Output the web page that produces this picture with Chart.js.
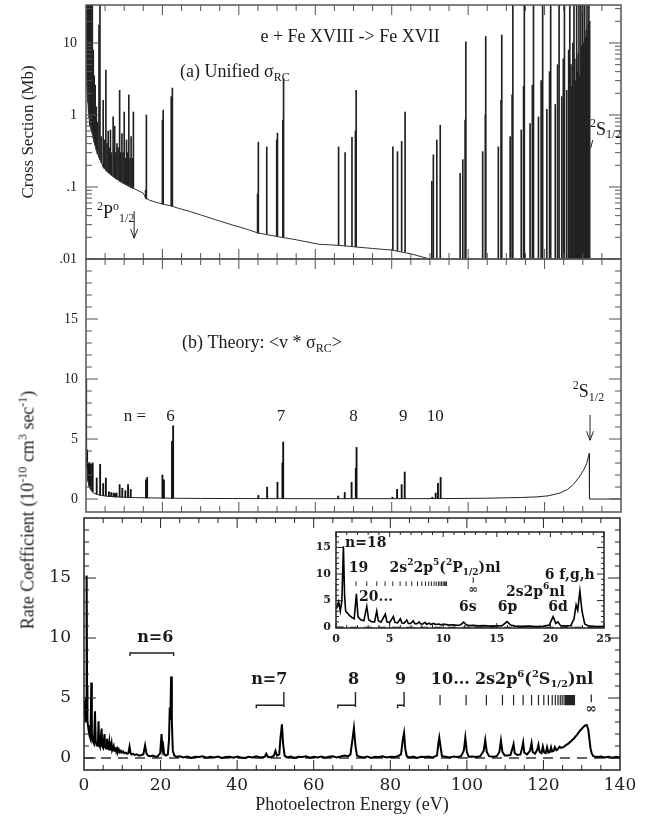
<!DOCTYPE html>
<html>
<head>
<meta charset="utf-8">
<script src="https://cdn.jsdelivr.net/npm/chart.js@4.4.1/dist/chart.umd.min.js"></script>
<style>
  body { margin: 0; background: #fff; }
  #wrap { position: relative; width: 649px; height: 822px; background: #fff; overflow: hidden; }
  #wrap canvas { position: absolute; }
  #rateTitle {
    position: absolute; left: 28px; top: 510px; white-space: nowrap;
    transform: translate(-50%, -50%) rotate(-90deg);
    font: 18px 'Liberation Serif', serif; color: #222;
  }
  #rateTitle sup { font-size: 12px; vertical-align: 7px; line-height: 0; }
</style>
</head>
<body>
<div id="wrap">
  <canvas id="panelA" width="649" height="272" style="left:0;top:0;width:649px;height:272px"></canvas>
  <canvas id="panelB" width="649" height="260" style="left:0;top:256px;width:649px;height:260px"></canvas>
  <canvas id="panelC" width="649" height="310" style="left:0;top:512px;width:649px;height:310px"></canvas>
  <canvas id="inset" width="340" height="130" style="left:280px;top:520px;width:340px;height:130px"></canvas>
  <div id="rateTitle">Rate Coefficient (10<sup>-10</sup> cm<sup>3</sup> sec<sup>-1</sup>)</div>
</div>
<script>
// ---- panel (a): unified cross section (Mb), log scale
const aCurveE = [0.03, 0.1, 0.3, 0.5, 0.7, 1.0, 1.5, 2.0, 2.8, 3.5,
  4.5, 5.5, 7.1, 8.5, 9.8, 12.4, 15.0, 15.5, 16.5, 18,
  20, 22, 24, 27, 30, 34, 38, 42, 45, 50,
  55, 61, 66, 70, 75, 80, 85, 90, 95];
const aCurveY = [12, 4, 2.5, 1.6, 1.1, 0.72, 0.6, 0.45, 0.31, 0.25,
  0.19, 0.165, 0.14, 0.125, 0.112, 0.096, 0.082, 0.072, 0.066, 0.062,
  0.058, 0.055, 0.051, 0.046, 0.041, 0.035, 0.030, 0.026, 0.023, 0.0205,
  0.0185, 0.016, 0.0155, 0.0148, 0.014, 0.0133, 0.0118, 0.0100, 0.0085];

// resonance lines: position, peak and foot of each line
const aLineE = [0.1, 0.25, 0.4, 0.55, 0.7, 0.85, 1.0, 1.2, 1.4, 1.65,
  1.9, 2.15, 2.4, 2.7, 3.0, 3.4, 3.65, 4.0, 4.5, 4.8,
  5.2, 5.5, 5.8, 6.1, 6.4, 6.7, 7.1, 7.5, 7.8, 8.1,
  8.4, 8.8, 9.1, 9.4, 9.7, 10.0, 10.3, 10.6, 10.9, 11.2,
  11.5, 11.8, 12.1, 12.4, 15.6, 15.8, 20.0, 20.2, 22.3, 22.6,
  44.9, 45.1, 47.3, 49.9, 50.1, 51.5, 51.7, 66.1, 67.8, 69.6,
  70.5, 70.7, 80.3, 81.5, 82.6, 83.5, 90.5, 90.9, 91.8, 92.7,
  97.9, 98.6, 99.2, 99.4, 103.8, 104.5, 104.6, 107.9, 108.6, 108.8,
  111.0, 111.5, 111.7, 113.9, 114.5, 114.7, 116.2, 116.8, 117.1, 118.4,
  119.1, 119.5, 120.6, 121.3, 121.6, 122.8, 123.4, 123.8, 124.5, 124.9,
  125.2, 125.8, 126.3, 126.6, 126.9, 127.1, 127.4, 127.7, 127.9, 128.1,
  128.4, 128.6, 128.8, 129.0, 129.2, 129.5, 129.65, 129.8, 130.0, 130.15,
  130.3, 130.5, 130.65, 130.8, 130.95, 131.1, 131.3, 131.45, 131.6, 131.8];
const aLineTop = [40, 40, 40, 40, 40, 40, 40, 40, 40, 40,
  8, 3.5, 2.6, 1.3, 0.8, 17.8, 40, 0.5, 1.6, 0.45,
  4.2, 0.4, 0.6, 0.35, 0.62, 0.3, 0.94, 0.7, 0.3, 0.4,
  0.35, 2.2, 0.3, 0.55, 0.3, 1.1, 0.25, 0.45, 0.3, 1.9,
  0.25, 0.5, 0.25, 1.1, 0.09, 1.0, 0.85, 1.17, 1.8, 2.37,
  0.08, 0.42, 0.36, 0.45, 0.56, 0.85, 3.2, 0.36, 0.30, 0.49,
  0.6, 2.2, 0.36, 0.31, 0.43, 1.1, 0.12, 0.28, 0.45, 0.72,
  0.155, 0.24, 0.85, 10.4, 0.31, 1.0, 12.3, 0.36, 1.6, 12.9,
  0.5, 1.9, 40, 0.62, 2.5, 40, 0.76, 2.6, 40, 0.94,
  3.0, 40, 1.2, 4.0, 40, 1.4, 5, 40, 1.8, 6,
  40, 2.2, 8, 40, 5, 2.5, 10, 40, 6, 3,
  40, 4, 7, 40, 3.5, 40, 9, 5, 40, 10,
  6, 40, 12, 8, 15, 40, 12, 18, 40, 20];
const aLineBase = [4, 2.8, 2.0, 1.5, 1.1, 0.9, 0.72, 0.68, 0.62, 0.56,
  0.48, 0.42, 0.38, 0.33, 0.29, 0.26, 0.24, 0.22, 0.19, 0.18,
  0.17, 0.165, 0.16, 0.155, 0.15, 0.145, 0.14, 0.135, 0.13, 0.128,
  0.125, 0.12, 0.118, 0.116, 0.114, 0.112, 0.11, 0.107, 0.105, 0.103,
  0.1, 0.099, 0.097, 0.096, 0.07, 0.068, 0.058, 0.058, 0.055, 0.054,
  0.023, 0.023, 0.022, 0.0205, 0.0205, 0.02, 0.02, 0.0155, 0.0152, 0.015,
  0.0148, 0.0148, 0.0133, 0.013, 0.0128, 0.0125, 0.009, 0.009, 0.009, 0.009,
  0.005, 0.005, 0.005, 0.005, 0.005, 0.005, 0.005, 0.005, 0.005, 0.005,
  0.005, 0.005, 0.005, 0.005, 0.005, 0.005, 0.005, 0.005, 0.005, 0.005,
  0.005, 0.005, 0.005, 0.005, 0.005, 0.005, 0.005, 0.005, 0.005, 0.005,
  0.005, 0.005, 0.005, 0.005, 0.005, 0.005, 0.005, 0.005, 0.005, 0.005,
  0.005, 0.005, 0.005, 0.005, 0.005, 0.005, 0.005, 0.005, 0.005, 0.005,
  0.005, 0.005, 0.005, 0.005, 0.005, 0.005, 0.005, 0.005, 0.005, 0.005];

// ---- panel (b): theoretical rate coefficient
const bCurveE = [0.02, 0.1, 0.2, 0.4, 0.7, 1.0, 1.5, 2.0, 3.0, 4.0,
  6, 8, 10, 13, 16, 20, 25, 30, 40, 60,
  80, 95, 105, 110, 114, 118, 121, 124, 126, 127.5,
  129, 130.2, 131, 131.7, 131.75, 140];
const bCurveY = [10, 5, 3.2, 1.8, 1.2, 0.9, 0.65, 0.5, 0.38, 0.3,
  0.22, 0.18, 0.15, 0.12, 0.1, 0.08, 0.06, 0.05, 0.04, 0.03,
  0.03, 0.04, 0.07, 0.1, 0.13, 0.18, 0.27, 0.5, 0.8, 1.2,
  1.8, 2.4, 2.95, 3.8, 0, 0];
const bLineE = [0.3, 0.55, 0.9, 1.3, 1.75, 2.8, 3.7, 4.5, 5.2, 6.0,
  6.6, 7.2, 7.6, 8.0, 8.8, 9.5, 10.3, 11.0, 11.7, 15.7,
  16.0, 20.0, 20.4, 22.5, 22.8, 45.1, 47.4, 50.1, 51.4, 51.6,
  66.0, 67.7, 69.5, 70.6, 70.8, 80.2, 81.4, 82.6, 83.4, 90.6,
  91.5, 92.1, 92.8];
const bLineTop = [4.1, 3.0, 3.0, 2.9, 3.0, 1.75, 2.9, 1.3, 1.75, 0.6,
  0.55, 0.5, 0.45, 0.5, 1.2, 0.9, 0.7, 1.2, 0.8, 1.6,
  1.8, 2.0, 1.6, 4.8, 6.1, 0.3, 1.0, 1.4, 3.0, 4.75,
  0.25, 0.55, 1.4, 2.55, 4.3, 0.15, 0.8, 1.2, 2.25, 0.15,
  0.5, 1.3, 1.8];
const bLineBase = [2.6, 1.5, 1.0, 0.8, 0.6, 0.4, 0.32, 0.28, 0.25, 0.22,
  0.2, 0.19, 0.185, 0.18, 0.17, 0.16, 0.15, 0.14, 0.13, 0.1,
  0.1, 0.08, 0.08, 0.07, 0.07, 0.04, 0.04, 0.035, 0.035, 0.035,
  0.03, 0.03, 0.03, 0.03, 0.03, 0.03, 0.03, 0.03, 0.03, 0.04,
  0.04, 0.04, 0.04];
const bLevelText = ['6', '7', '8', '9', '10'];
const bLevelE = [22.1, 51.0, 70.0, 83.0, 91.4];

// ---- panel (c): measured rate coefficient (also shown in the inset)
const cEnergy = [0.05, 0.25, 0.4, 0.55, 0.69, 0.8, 0.9, 1.05, 1.25, 1.5,
  1.7, 1.9, 2.05, 2.3, 2.6, 2.87, 3.05, 3.3, 3.6, 3.8,
  3.95, 4.2, 4.6, 4.75, 5.0, 5.35, 5.5, 5.75, 6.0, 6.15,
  6.35, 6.6, 6.75, 6.95, 7.2, 7.35, 7.55, 7.75, 7.9, 8.1,
  8.3, 8.45, 8.7, 8.85, 9.1, 9.3, 9.6, 9.8, 10.2, 10.5,
  10.9, 11.3, 11.6, 11.9, 12.15, 12.4, 12.8, 13.3, 13.8, 14.4,
  15.0, 15.5, 15.95, 16.3, 16.7, 17.3, 18.0, 18.7, 19.3, 19.9,
  20.25, 20.5, 20.7, 20.95, 21.4, 21.9, 22.2, 22.4, 22.55, 22.75,
  22.95, 23.2, 23.6, 24.2, 25, 26, 27, 28, 29, 30,
  31, 32, 33, 34, 35, 36, 37, 38, 39, 40,
  41, 42, 43, 44, 45, 46, 47.2, 47.6, 48.0, 48.8,
  49.6, 50.0, 50.4, 51.0, 51.3, 51.7, 52.0, 52.4, 53, 54,
  55, 56, 57, 58, 59, 60, 61, 62, 63, 64,
  65, 66, 67, 68, 69, 69.6, 70.1, 70.5, 70.9, 71.3,
  72, 73, 74, 75, 76, 77, 78, 79, 80, 81,
  82, 82.8, 83.3, 83.6, 83.9, 84.3, 85, 86, 87, 88,
  89, 90, 91, 92.2, 92.6, 92.8, 93.1, 93.5, 94.5, 95.5,
  96.5, 97.5, 98.5, 99.2, 99.6, 100.0, 100.5, 101.5, 102.5, 103.5,
  104.4, 104.8, 105.2, 105.8, 106.8, 107.8, 108.5, 108.9, 109.3, 109.9,
  110.7, 111.4, 111.9, 112.2, 112.5, 113.2, 114.0, 114.4, 114.7, 115.0,
  115.7, 116.5, 116.9, 117.2, 117.8, 118.4, 118.7, 119.0, 119.5, 119.85,
  120.2, 120.6, 120.95, 121.3, 121.7, 122.0, 122.3, 122.7, 123.0, 123.4,
  123.8, 124.2, 124.6, 125.2, 125.8, 126.5, 127.2, 128.0, 128.8, 129.5,
  130.2, 130.8, 131.3, 131.7, 132.0, 132.3, 132.6, 133.0, 134, 135,
  136, 137, 138, 139, 140];
const cRate = [3.5, 4.8, 3.0, 5.0, 15.2, 6.0, 3.0, 2.7, 2.2, 1.8,
  1.6, 6.3, 2.0, 1.4, 1.2, 3.9, 1.4, 1.05, 1.0, 3.05,
  1.2, 0.95, 2.45, 1.0, 0.85, 2.0, 0.9, 0.8, 1.6, 0.8,
  0.75, 1.35, 0.7, 0.7, 1.2, 0.65, 0.65, 1.0, 0.6, 0.6,
  0.9, 0.55, 0.75, 0.5, 0.7, 0.5, 0.6, 0.45, 0.55, 0.4,
  0.45, 0.35, 0.4, 0.95, 0.45, 0.3, 0.35, 0.25, 0.3, 0.2,
  0.25, 0.3, 1.05, 0.4, 0.2, 0.15, 0.2, 0.1, 0.15, 0.4,
  2.0, 0.7, 1.0, 0.3, 0.2, 0.3, 1.5, 4.2, 3.2, 6.8,
  3.0, 0.6, 0.2, 0.1, 0.15, 0.05, 0.12, 0.0, 0.1, 0.08,
  0.15, 0.02, 0.1, 0.05, 0.12, 0.0, 0.08, 0.1, 0.02, 0.12,
  0.05, 0.0, 0.1, 0.05, 0.15, 0.05, 0.1, 0.35, 0.1, 0.05,
  0.2, 0.6, 0.2, 0.3, 1.6, 2.8, 1.2, 0.2, 0.05, 0.12,
  0.0, 0.1, 0.08, 0.15, 0.02, 0.1, 0.05, 0.12, 0.02, 0.1,
  0.15, 0.05, 0.12, 0.2, 0.15, 0.3, 1.5, 2.5, 1.0, 0.2,
  0.1, 0.05, 0.12, 0.0, 0.1, 0.08, 0.15, 0.05, 0.1, 0.08,
  0.15, 0.3, 1.6, 2.1, 0.8, 0.15, 0.05, 0.12, 0.0, 0.1,
  0.08, 0.12, 0.05, 0.2, 1.3, 1.7, 1.0, 0.15, 0.1, 0.05,
  0.12, 0.08, 0.15, 0.6, 1.7, 0.5, 0.1, 0.12, 0.08, 0.15,
  0.6, 1.5, 0.5, 0.15, 0.1, 0.15, 0.5, 1.45, 0.5, 0.2,
  0.2, 0.25, 0.8, 1.15, 0.4, 0.25, 0.3, 0.8, 1.3, 0.45,
  0.3, 0.6, 1.25, 0.5, 0.35, 0.7, 1.1, 0.5, 0.4, 0.95,
  0.45, 0.4, 0.9, 0.45, 0.5, 0.9, 0.55, 0.6, 0.9, 0.65,
  0.75, 0.95, 0.85, 0.9, 1.05, 1.2, 1.4, 1.65, 1.95, 2.25,
  2.5, 2.7, 2.75, 2.4, 1.6, 0.8, 0.4, 0.15, 0.08, 0.12,
  0.05, 0.1, 0.02, 0.1, 0.05];
const zeroLine = [0, 140];

// Rydberg series markers
const seriesS = [93.0, 99.8, 105.1, 109.3, 112.2, 114.7, 116.9, 118.7, 120.1, 121.3,
  122.3, 123.1, 123.8, 124.4, 124.9, 125.4, 125.8, 126.1, 126.4, 126.7,
  126.95, 127.2, 127.4, 127.6, 127.8, 128.0, 128.1];
const seriesP = [1.87, 2.87, 3.8, 4.58, 5.3, 5.98, 6.54, 7.07, 7.6, 8.0,
  8.35, 8.65, 8.9, 9.15, 9.35, 9.55, 9.7, 9.85, 10.0, 10.1, 10.2, 10.3];

// ---- ticks
const xLabels = [0, 20, 40, 60, 80, 100, 120, 140];
const xMajor = [20, 40, 60, 80, 100, 120];
const xMinor = [5, 10, 15, 25, 30, 35, 45, 50, 55, 65, 70, 75, 85, 90, 95, 105, 110, 115, 125, 130, 135];
const aMajor = [0.01, 0.1, 1, 10];
const aMajorText = ['.01', '.1', '1', '10'];
const aMinor = [0.02, 0.03, 0.04, 0.05, 0.06, 0.07, 0.08, 0.09, 0.2, 0.3, 0.4, 0.5, 0.6, 0.7, 0.8, 0.9,
  2, 3, 4, 5, 6, 7, 8, 9, 20, 30];
const linMajor = [0, 5, 10, 15];
const linMinor = [1, 2, 3, 4, 6, 7, 8, 9, 11, 12, 13, 14, 16, 17, 18, 19];
const iXMajor = [0, 5, 10, 15, 20, 25];
const iXMinor = [1, 2, 3, 4, 6, 7, 8, 9, 11, 12, 13, 14, 16, 17, 18, 19, 21, 22, 23, 24];
const iYMinor = [1, 2, 3, 4, 6, 7, 8, 9, 11, 12, 13, 14, 16, 17];

const serif = "'Liberation Serif', 'Times New Roman', serif";
const wide = "'DejaVu Serif', serif";

Chart.defaults.color = '#222';

function pts(xs, ys) {
  return xs.map((e, i) => ({ x: e, y: ys[i] }));
}
function bars(xs, lo, hi) {
  return xs.map((e, i) => ({ x: e, y: [lo[i], hi[i]] }));
}
// axis sizes are fixed so the plot boxes line up across the canvases
function fixWidth(w) {
  return s => { s.width = w; s.paddingTop = 0; s.paddingBottom = 0; s.paddingLeft = 0; s.paddingRight = 0; };
}
function fixHeight(h) {
  return s => { s.height = h; s.paddingTop = 0; s.paddingBottom = 0; s.paddingLeft = 0; s.paddingRight = 0; };
}

// text with superscript (1) and subscript (2) pieces
function rich(ctx, parts, x, y, o) {
  const size = o.size, small = Math.round(size * 0.65);
  const font = k => `${o.weight || 'normal'} ${k ? small : size}px ${o.family}`;
  let total = 0;
  const widths = parts.map(([t, k]) => {
    ctx.font = font(k);
    const w = ctx.measureText(t).width;
    total += w;
    return w;
  });
  let cx = o.align === 'center' ? x - total / 2 : x;
  ctx.textAlign = 'left';
  ctx.textBaseline = 'middle';
  ctx.fillStyle = '#1a1a1a';
  parts.forEach(([t, k], i) => {
    ctx.font = font(k);
    const dy = k === 1 ? -0.36 * size : k === 2 ? 0.3 * size : 0;
    ctx.fillText(t, cx, y + dy);
    cx += widths[i];
  });
}

function arrowDown(ctx, x, y1, y2) {
  ctx.beginPath();
  ctx.moveTo(x, y1); ctx.lineTo(x, y2);
  ctx.moveTo(x - 3.5, y2 - 9); ctx.lineTo(x, y2); ctx.lineTo(x + 3.5, y2 - 9);
  ctx.stroke();
}

// box round the plot area with inward ticks on all four sides
function frame(xMaj, xMin, yMaj, yMin, color, majLen, minLen) {
  return {
    id: 'frame',
    afterDatasetsDraw(chart) {
      const { ctx, chartArea: a } = chart;
      const xs = chart.scales.x, ys = chart.scales.y;
      ctx.save();
      ctx.strokeStyle = color;
      ctx.lineWidth = 1;
      ctx.beginPath();
      const tx = (v, len) => {
        const p = xs.getPixelForValue(v);
        ctx.moveTo(p, a.bottom); ctx.lineTo(p, a.bottom - len);
        ctx.moveTo(p, a.top); ctx.lineTo(p, a.top + len);
      };
      const ty = (v, len) => {
        const p = ys.getPixelForValue(v);
        ctx.moveTo(a.left, p); ctx.lineTo(a.left + len, p);
        ctx.moveTo(a.right, p); ctx.lineTo(a.right - len, p);
      };
      xMaj.forEach(v => tx(v, majLen));
      xMin.forEach(v => tx(v, minLen));
      yMaj.forEach(v => ty(v, majLen + 2));
      yMin.forEach(v => ty(v, minLen));
      ctx.stroke();
      ctx.lineWidth = 1.5;
      ctx.strokeRect(a.left, a.top, a.right - a.left, a.bottom - a.top);
      ctx.restore();
    }
  };
}

function notes(draw) {
  return {
    id: 'notes',
    afterDatasetsDraw(chart) {
      const { ctx, scales: { x, y } } = chart;
      ctx.save();
      ctx.strokeStyle = '#222';
      ctx.lineWidth = 1;
      draw(ctx, e => x.getPixelForValue(e), v => y.getPixelForValue(v));
      ctx.restore();
    }
  };
}

const common = {
  responsive: false,
  animation: false,
  events: [],
  plugins: { legend: { display: false }, tooltip: { enabled: false } }
};
const hiddenX = { type: 'linear', min: 0, max: 140, offset: false, display: false, grid: { offset: false } };

// panel (a)
new Chart(document.getElementById('panelA'), {
  data: {
    datasets: [
      { type: 'line', data: pts(aCurveE, aCurveY), borderColor: '#333', borderWidth: 1, pointRadius: 0 },
      { type: 'bar', data: bars(aLineE, aLineBase, aLineTop), backgroundColor: '#222', barThickness: 1, grouped: false }
    ]
  },
  options: {
    ...common,
    layout: { padding: { left: 0, right: 28, top: 5, bottom: 13 } },
    scales: {
      x: hiddenX,
      y: {
        type: 'logarithmic', min: 0.01, max: 33.7,
        afterBuildTicks: s => { s.ticks = aMajor.map(v => ({ value: v })); },
        afterFit: fixWidth(86),
        grid: { display: false, drawTicks: false }, border: { display: false },
        ticks: { padding: 9, font: { family: serif, size: 14 }, callback: (v, i) => aMajorText[i] },
        title: { display: true, text: 'Cross Section (Mb)', font: { family: serif, size: 17 }, padding: { top: 18, bottom: 0 } }
      }
    }
  },
  plugins: [
    frame(xMajor, xMinor, aMajor, aMinor, '#555', 10, 6),
    notes((ctx, X, Y) => {
      const f = { size: 18, family: serif };
      rich(ctx, [['e + Fe XVIII -> Fe XVII']], X(69.1), Y(12.1), { ...f, align: 'center' });
      rich(ctx, [['(a) Unified σ'], ['RC', 2]], X(24.6), Y(3.95), f);
      rich(ctx, [['2', 1], ['P'], ['o', 1], ['1/2', 2]], X(2.9), Y(0.0435), f);
      rich(ctx, [['2', 1], ['S'], ['1/2', 2]], X(131.9), Y(0.62), f);
      arrowDown(ctx, X(12.6), Y(0.046), Y(0.0195));
      ctx.beginPath();
      ctx.moveTo(X(132.6), Y(0.45)); ctx.lineTo(X(132.1), Y(0.35));
      ctx.stroke();
    })
  ]
});

// panel (b)
new Chart(document.getElementById('panelB'), {
  data: {
    datasets: [
      { type: 'line', data: pts(bCurveE, bCurveY), borderColor: '#222', borderWidth: 1, pointRadius: 0 },
      { type: 'bar', data: bars(bLineE, bLineBase, bLineTop), backgroundColor: '#111', barThickness: 1.2, grouped: false }
    ]
  },
  options: {
    ...common,
    layout: { padding: { left: 0, right: 28, top: 3, bottom: 4 } },
    scales: {
      x: hiddenX,
      y: {
        type: 'linear', min: -1.08, max: 20,
        afterBuildTicks: s => { s.ticks = linMajor.map(v => ({ value: v })); },
        afterFit: fixWidth(86),
        grid: { display: false, drawTicks: false }, border: { display: false },
        ticks: { padding: 8, font: { family: serif, size: 14 } }
      }
    }
  },
  plugins: [
    frame(xMajor, xMinor, linMajor, linMinor, '#555', 10, 6),
    notes((ctx, X, Y) => {
      rich(ctx, [['(b) Theory: <v * σ'], ['RC', 2], ['>']], X(25.1), Y(13.0), { size: 18, family: serif });
      const f = { size: 17, family: serif, align: 'center' };
      rich(ctx, [['n =']], X(12.8), Y(6.9), f);
      bLevelText.forEach((t, i) => rich(ctx, [[t]], X(bLevelE[i]), Y(6.9), f));
      rich(ctx, [['2', 1], ['S'], ['1/2', 2]], X(131.5), Y(8.9), { size: 18, family: serif, align: 'center' });
      arrowDown(ctx, X(131.9), Y(7.0), Y(4.9));
    })
  ]
});

// panel (c)
new Chart(document.getElementById('panelC'), {
  data: {
    datasets: [
      { type: 'line', data: pts(cEnergy, cRate), borderColor: '#000', borderWidth: 2, pointRadius: 0 },
      { type: 'line', data: pts(zeroLine, [0, 0]), borderColor: '#333', borderWidth: 1.3, borderDash: [10, 7], pointRadius: 0 }
    ]
  },
  options: {
    ...common,
    layout: { padding: { left: 0, right: 29, top: 6, bottom: 0 } },
    scales: {
      x: {
        type: 'linear', min: 0, max: 140,
        afterBuildTicks: s => { s.ticks = xLabels.map(v => ({ value: v })); },
        afterFit: fixHeight(52),
        grid: { display: false, drawTicks: false }, border: { display: false },
        ticks: { padding: 5, maxRotation: 0, autoSkip: false, font: { family: wide, size: 17 } },
        title: { display: true, text: 'Photoelectron Energy (eV)', font: { family: serif, size: 18 }, padding: { top: 0, bottom: 6 } }
      },
      y: {
        type: 'linear', min: -1, max: 20,
        afterBuildTicks: s => { s.ticks = linMajor.map(v => ({ value: v })); },
        afterFit: fixWidth(84),
        grid: { display: false, drawTicks: false }, border: { display: false },
        ticks: { padding: 13, font: { family: wide, size: 17 } }
      }
    }
  },
  plugins: [
    frame(xMajor, xMinor, linMajor, linMinor, '#222', 10, 5),
    notes((ctx, X, Y) => {
      const f = { size: 16, family: wide, weight: 'bold' };
      const fc = { ...f, align: 'center' };
      ctx.lineWidth = 1.4;
      const bracket = (e1, e2, v, tall) => {
        ctx.beginPath();
        ctx.moveTo(X(e1), Y(v) + 3); ctx.lineTo(X(e1), Y(v)); ctx.lineTo(X(e2), Y(v));
        if (tall) { ctx.moveTo(X(e2), Y(v + 1.1)); ctx.lineTo(X(e2), Y(v - 0.15)); }
        else { ctx.lineTo(X(e2), Y(v) + 3); }
        ctx.stroke();
      };
      rich(ctx, [['n=6']], X(18.6), Y(10.0), fc);
      bracket(12.0, 23.4, 8.75, false);
      rich(ctx, [['n=7']], X(48.4), Y(6.5), fc);
      bracket(45.0, 52.2, 4.4, true);
      rich(ctx, [['8']], X(70.4), Y(6.5), fc);
      bracket(66.3, 70.9, 4.4, true);
      rich(ctx, [['9']], X(82.7), Y(6.5), fc);
      bracket(81.9, 83.6, 4.4, true);
      rich(ctx, [['10...']], X(90.6), Y(6.5), f);
      rich(ctx, [['2s2p'], ['6', 1], ['('], ['2', 1], ['S'], ['1/2', 2], [')nl']], X(102.1), Y(6.5), f);
      ctx.lineWidth = 1.2;
      ctx.beginPath();
      seriesS.forEach(e => { ctx.moveTo(X(e), Y(5.25)); ctx.lineTo(X(e), Y(4.4)); });
      ctx.moveTo(X(132.5), Y(5.3)); ctx.lineTo(X(132.5), Y(4.65));
      ctx.stroke();
      rich(ctx, [['∞']], X(132.5), Y(4.05), { size: 14, family: wide, weight: 'bold', align: 'center' });
    })
  ]
});

// inset: low-energy part of panel (c)
new Chart(document.getElementById('inset'), {
  data: {
    datasets: [
      { type: 'line', data: pts(cEnergy, cRate), borderColor: '#000', borderWidth: 1.6, pointRadius: 0 },
      { type: 'line', data: pts(zeroLine, [0, 0]), borderColor: '#333', borderWidth: 1, borderDash: [8, 6], pointRadius: 0 }
    ]
  },
  options: {
    ...common,
    layout: { padding: { left: 0, right: 16, top: 12, bottom: 0 } },
    scales: {
      x: {
        type: 'linear', min: 0, max: 25,
        afterBuildTicks: s => { s.ticks = iXMajor.map(v => ({ value: v })); },
        afterFit: fixHeight(22),
        grid: { display: false, drawTicks: false }, border: { display: false },
        ticks: { padding: 5, maxRotation: 0, autoSkip: false, font: { family: wide, size: 11, weight: 'bold' } }
      },
      y: {
        type: 'linear', min: -0.15, max: 17.9,
        afterBuildTicks: s => { s.ticks = linMajor.map(v => ({ value: v })); },
        afterFit: fixWidth(56),
        grid: { display: false, drawTicks: false }, border: { display: false },
        ticks: { padding: 5, font: { family: wide, size: 11, weight: 'bold' } }
      }
    }
  },
  plugins: [
    {
      id: 'paper',
      beforeDatasetsDraw(chart) {
        const { ctx, chartArea: a } = chart;
        ctx.save();
        ctx.fillStyle = '#fff';
        ctx.fillRect(a.left, a.top, a.right - a.left, a.bottom - a.top);
        ctx.restore();
      }
    },
    frame(iXMajor, iXMinor, linMajor, iYMinor, '#222', 5, 3),
    notes((ctx, X, Y) => {
      const f = { size: 14, family: wide, weight: 'bold' };
      const fc = { ...f, align: 'center' };
      rich(ctx, [['n=18']], X(0.84), Y(15.8), f);
      rich(ctx, [['19']], X(1.2), Y(11.1), f);
      rich(ctx, [['2s'], ['2', 1], ['2p'], ['5', 1], ['('], ['2', 1], ['P'], ['1/2', 2], [')nl']], X(5.0), Y(11.1), f);
      rich(ctx, [['20...']], X(2.15), Y(5.7), f);
      rich(ctx, [['6s']], X(12.3), Y(3.8), fc);
      rich(ctx, [['6p']], X(16.0), Y(3.8), fc);
      rich(ctx, [['6d']], X(20.7), Y(3.8), fc);
      rich(ctx, [['2s2p'], ['6', 1], ['nl']], X(18.6), Y(6.6), fc);
      rich(ctx, [['6 f,g,h']], X(21.8), Y(9.8), fc);
      ctx.beginPath();
      seriesP.forEach(e => { ctx.moveTo(X(e), Y(8.6)); ctx.lineTo(X(e), Y(7.75)); });
      ctx.moveTo(X(12.8), Y(9.4)); ctx.lineTo(X(12.8), Y(8.3));
      ctx.stroke();
      rich(ctx, [['∞']], X(12.8), Y(7.0), { size: 12, family: wide, weight: 'bold', align: 'center' });
    })
  ]
});
</script>
</body>
</html>
